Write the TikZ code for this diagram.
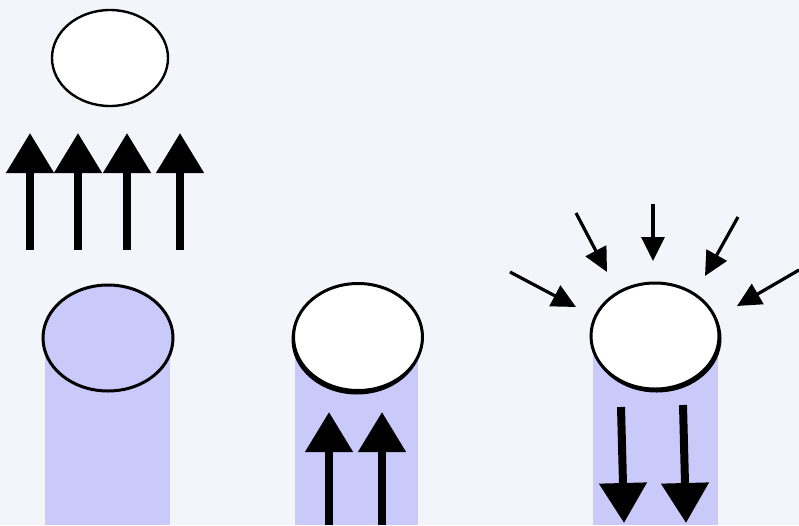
\documentclass[tikz,border=0pt]{standalone}
\usetikzlibrary{arrows.meta,shapes.geometric}
\definecolor{bgc}{RGB}{244,245,250}
\definecolor{lav}{RGB}{202,202,250}
\tikzset{
  disc/.style={ellipse, draw=black, line width=3pt, inner sep=0pt, minimum width=#1},
  bigarrow/.style={line width=8pt, -{Triangle[length=40pt,width=46pt]}},
  smallarrow/.style={line width=3.2pt, -{Triangle[length=24pt,width=23pt]}},
  column/.style={fill=lav, draw=none}
}
\begin{document}
\begin{tikzpicture}[x=1pt,y=-1pt]
\fill[bgc] (0,0) rectangle (799,525);
\useasboundingbox (0,0) rectangle (799,525);
% top-left free disc
\node[disc=116pt, minimum height=96pt, fill=white, line width=2.4pt] (d0) at (110,58) {};
% four up arrows
\foreach \i/\x in {1/30,2/78,3/127,4/180}{
  \coordinate (ua\i) at (\x,250);
  \coordinate (ub\i) at (\x,133);
  \draw[bigarrow] (ua\i) -- (ub\i);
}
% left column
\fill[column] (45,338) rectangle (170,525);
\node[disc=130pt, minimum height=106pt, fill=lav] (d1) at (108,338) {};
% middle column
\fill[column] (295,338) rectangle (418,525);
\fill[black] (357,339.5) ellipse[x radius=65.5, y radius=55];
\node[disc=129pt, minimum height=107pt, fill=white] (d2) at (358,337) {};
\foreach \i/\x in {1/329,2/382}{
  \coordinate (ma\i) at (\x,525);
  \coordinate (mb\i) at (\x,412);
  \draw[bigarrow] (ma\i) -- (mb\i);
}
% right column
\fill[column] (593,337) rectangle (718,525);
\fill[black] (656.5,338.5) ellipse[x radius=65, y radius=54];
\node[disc=128pt, minimum height=106pt, fill=white] (d3) at (655,336) {};
\coordinate (ra1) at (621,407); \coordinate (rb1) at (624,523);
\coordinate (ra2) at (683,405); \coordinate (rb2) at (686,523);
\draw[bigarrow] (ra1) -- (rb1);
\draw[bigarrow] (ra2) -- (rb2);
% inward arrows
\coordinate (s1) at (510,272); \coordinate (t1) at (576,307);
\coordinate (s2) at (576,213); \coordinate (t2) at (607,272);
\coordinate (s3) at (653,204); \coordinate (t3) at (653,261);
\coordinate (s4) at (738,217); \coordinate (t4) at (705,276);
\coordinate (s5) at (799,270); \coordinate (t5) at (737,306);
\foreach \i in {1,...,5}{ \draw[smallarrow] (s\i) -- (t\i); }
\end{tikzpicture}
\end{document}
